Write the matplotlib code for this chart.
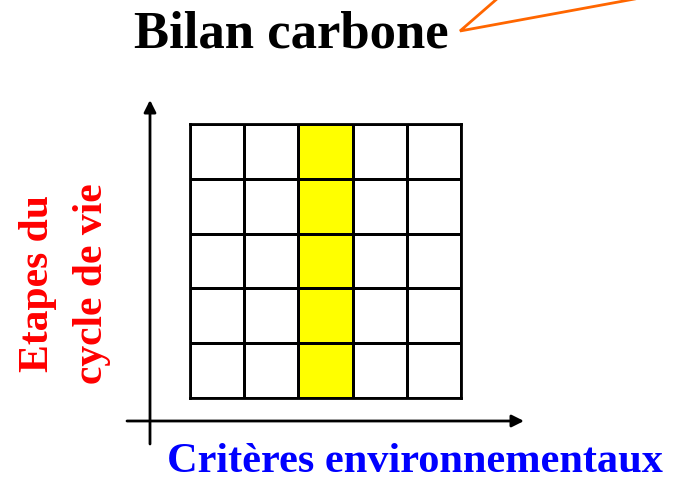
"""Diagramme : bilan carbone = un critère sur les étapes du cycle de vie."""

import numpy as np
import matplotlib
matplotlib.use("Agg")
import matplotlib.pyplot as plt
from matplotlib.colors import ListedColormap

# Données
etapes = ["Etape 1", "Etape 2", "Etape 3", "Etape 4", "Etape 5"]
criteres = ["C1", "C2", "C3", "C4", "C5"]
critere_retenu = 2  # colonne surlignée (bilan carbone)

title = "Bilan carbone"
xlabel = "Critères environnementaux"
ylabel = "Etapes du\ncycle de vie"

W, H = 675, 482
fig = plt.figure(figsize=(W / 100, H / 100), dpi=100)

# calque de fond en coordonnées pixels
ax = fig.add_axes([0, 0, 1, 1])
ax.set_xlim(0, W)
ax.set_ylim(H, 0)
ax.axis("off")

serif = ["Liberation Serif", "DejaVu Serif"]

ax.text(291, 34, title, ha="center", va="center", fontsize=38,
        fontweight="bold", family=serif, color="black")
# trait orange vers le titre
ax.plot([498, 460, 640], [-2, 31, -2], color="#ff6600", lw=2,
        solid_joinstyle="miter", clip_on=False)

# axes fléchés
ax.annotate("", xy=(150, 100), xytext=(150, 444),
            arrowprops=dict(arrowstyle="-|>", lw=2, color="black",
                            mutation_scale=18, shrinkA=0, shrinkB=0))
ax.annotate("", xy=(524, 421), xytext=(127, 421),
            arrowprops=dict(arrowstyle="-|>", lw=2, color="black",
                            mutation_scale=18, shrinkA=0, shrinkB=0))

ax.text(415, 462, xlabel, ha="center", va="center", fontsize=30.5,
        fontweight="bold", family=serif, color="#0000ff")
ax.text(65, 284, ylabel, ha="center", va="center", fontsize=30,
        fontweight="bold", family=serif, color="#ff0000", rotation=90,
        linespacing=1.55)

# grille
x0, x1, y0, y1 = 190, 461, 124, 398
gax = fig.add_axes([x0 / W, 1 - y1 / H, (x1 - x0) / W, (y1 - y0) / H])
valeurs = np.zeros((len(etapes), len(criteres)))
valeurs[:, critere_retenu] = 1
gax.pcolormesh(valeurs, cmap=ListedColormap(["white", "#ffff00"]),
               edgecolors="black", linewidth=2, vmin=0, vmax=1)
gax.set_xlim(0, len(criteres))
gax.set_ylim(0, len(etapes))
gax.set_xticks([])
gax.set_yticks([])
for s in gax.spines.values():
    s.set_linewidth(2)

fig.savefig("out.png", dpi=100)
